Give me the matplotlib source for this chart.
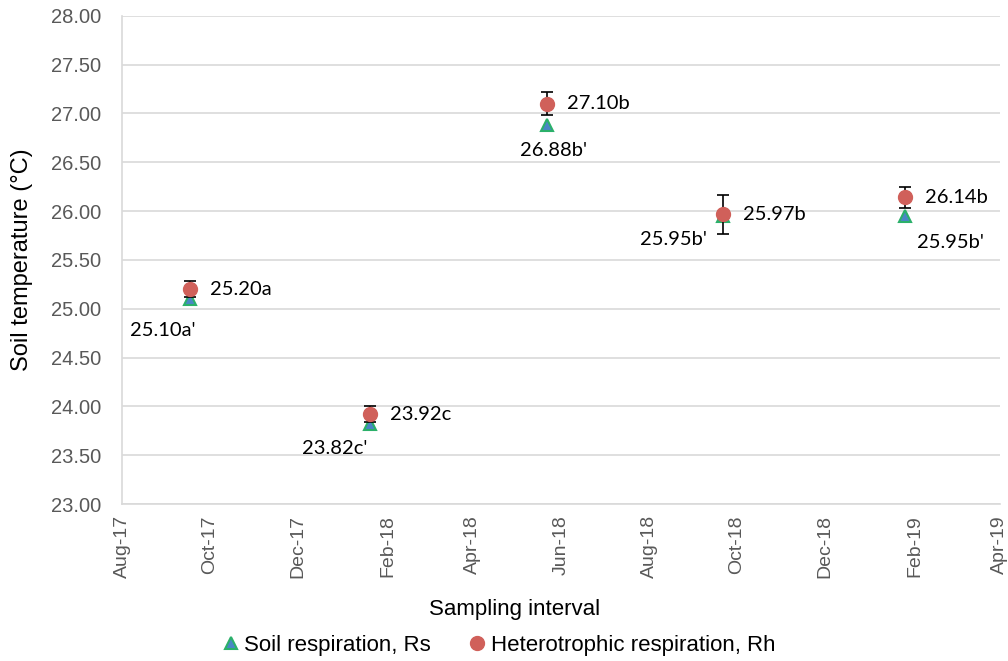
import matplotlib
matplotlib.use("Agg")
import matplotlib.pyplot as plt
import matplotlib.dates as mdates
from matplotlib.lines import Line2D
import numpy as np
from datetime import date

# sampling dates and mean soil temperature per campaign
dates = [date(2017, 9, 17), date(2018, 1, 20), date(2018, 5, 22),
         date(2018, 9, 21), date(2019, 1, 25)]
rs = [25.10, 23.82, 26.88, 25.95, 25.95]
rh = [25.20, 23.92, 27.10, 25.97, 26.14]
rh_err = [0.08, 0.08, 0.12, 0.20, 0.11]
rs_labels = ["25.10a'", "23.82c'", "26.88b'", "25.95b'", "25.95b'"]
rh_labels = ["25.20a", "23.92c", "27.10b", "25.97b", "26.14b"]

# label offsets in pixels for the Rs labels (they sit below the points)
rs_off = [(-27, -32), (-36, -25), (7, -25), (-49, -23), (46, -26)]

tri_face, tri_edge = "#4a86c5", "#2bb06a"
dot_col = "#d0605a"

fig = plt.figure(figsize=(10.08, 6.61), dpi=100)
ax = fig.add_axes([0.121, 0.2375, 0.871, 0.7385])

ax.plot(dates, rs, linestyle="none", marker="^", markersize=9,
        markerfacecolor=tri_face, markeredgecolor=tri_edge, markeredgewidth=1.5, zorder=3)
ax.errorbar(dates, rh, yerr=rh_err, fmt="o", markersize=10,
            color=dot_col, ecolor="black", elinewidth=1.2, capsize=4.5, capthick=1.2, zorder=4)

for d, v, t in zip(dates, rh, rh_labels):
    ax.annotate(t, (mdates.date2num(d), v), xytext=(20, 0), textcoords="offset pixels",
                ha="left", va="center", fontsize=14.5, family="Lato", color="black")
for d, v, t, off in zip(dates, rs, rs_labels, rs_off):
    ax.annotate(t, (mdates.date2num(d), v), xytext=off, textcoords="offset pixels",
                ha="center", va="center", fontsize=14.5, family="Lato", color="black")

ax.set_ylim(23, 28)
ax.set_yticks(np.arange(23, 28.01, 0.5))
ax.yaxis.set_major_formatter(matplotlib.ticker.FormatStrFormatter("%.2f"))
ax.set_xlim(mdates.date2num(date(2017, 8, 1)), mdates.date2num(date(2019, 4, 1)))
ax.xaxis.set_major_locator(mdates.MonthLocator(bymonth=[2, 4, 6, 8, 10, 12]))
ax.xaxis.set_major_formatter(mdates.DateFormatter("%b-%y"))

for lab in ax.get_xticklabels():
    lab.set_rotation(90)
ax.tick_params(axis="y", length=0, labelsize=14.5, labelcolor="#595959", pad=15)
ax.tick_params(axis="x", length=0, labelsize=14, labelcolor="#595959", pad=8)
for lab in ax.get_xticklabels() + ax.get_yticklabels():
    lab.set_family("Liberation Sans")

ax.grid(axis="y", color="#d9d9d9", linewidth=1.2)
ax.set_axisbelow(True)
for s in ["top", "right"]:
    ax.spines[s].set_visible(False)
for s in ["left", "bottom"]:
    ax.spines[s].set_color("#d9d9d9")
    ax.spines[s].set_linewidth(1.2)

ax.set_ylabel("Soil temperature (°C)", fontsize=17, family="Liberation Sans")
ax.yaxis.set_label_coords(-0.101, 0.5)
ax.set_xlabel("Sampling interval", fontsize=16, family="Liberation Sans")
ax.xaxis.set_label_coords(0.4476, -0.195)

handles = [Line2D([], [], linestyle="none", marker="^", markersize=9,
                  markerfacecolor=tri_face, markeredgecolor=tri_edge, markeredgewidth=1.5),
           Line2D([], [], linestyle="none", marker="o", markersize=10, color=dot_col)]
fig.legend(handles, ["Soil respiration, Rs", "Heterotrophic respiration, Rh"],
           loc="center", bbox_to_anchor=(0.4935, 0.024), ncol=2, frameon=False,
           prop={"family": "Liberation Sans", "size": 16}, handletextpad=0.1,
           columnspacing=1.6, handlelength=1.0)

fig.savefig("out.png", dpi=100)
